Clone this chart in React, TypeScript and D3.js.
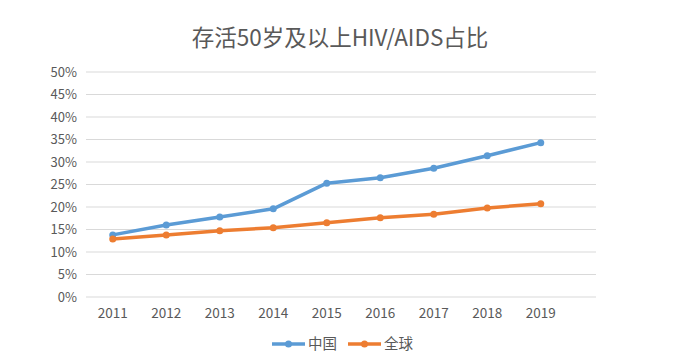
import React from "react";
import * as d3 from "d3";

const years = ["2011", "2012", "2013", "2014", "2015", "2016", "2017", "2018", "2019"];
const china = [13.8, 16.0, 17.8, 19.6, 25.3, 26.5, 28.6, 31.4, 34.3];
const world = [12.9, 13.8, 14.7, 15.4, 16.5, 17.6, 18.4, 19.8, 20.7];
const yTicks = [0, 5, 10, 15, 20, 25, 30, 35, 40, 45, 50];
const seriesNames = ["中国", "全球"];
const colors = ["#5B9BD5", "#ED7D31"];

const W = 700, H = 357;
const left = 86, right = 596, top = 72, bottom = 297;
const bandW = 53.5;

export default function App() {
  const x = d3.scalePoint<string>().domain(years).range([left + bandW / 2, left + bandW / 2 + bandW * 8]);
  const y = d3.scaleLinear().domain([0, 50]).range([bottom, top]);
  const line = d3.line<number>().x((_, i) => x(years[i])!).y((d) => y(d));
  const font = "'Noto Sans CJK SC', 'Liberation Sans', sans-serif";
  const series = [china, world];
  const legendX = [272, 348];
  return (
    <div style={{ position: "fixed", left: 0, top: 0, width: W, height: H, background: "#fff" }}>
      <svg width={W} height={H} style={{ display: "block" }} fontFamily={font}>
        <rect width={W} height={H} fill="#fff" />
        <text x={340} y={46} textAnchor="middle" fontSize={22.5} fill="#595959">存活50岁及以上HIV/AIDS占比</text>
        {yTicks.map((t) => (
          <g key={t}>
            <line x1={left} x2={right} y1={y(t)} y2={y(t)} stroke="#d9d9d9" strokeWidth={1} />
            <text x={77} y={y(t)} dy="0.35em" textAnchor="end" fontSize={13} fill="#595959">{t}%</text>
          </g>
        ))}
        {years.map((yr) => (
          <text key={yr} x={x(yr)} y={318} textAnchor="middle" fontSize={13.5} fill="#595959">{yr}</text>
        ))}
        {series.map((s, si) => (
          <g key={si}>
            <path d={line(s)!} fill="none" stroke={colors[si]} strokeWidth={3.5} strokeLinejoin="round" strokeLinecap="round" />
            {s.map((v, i) => (
              <circle key={i} cx={x(years[i])} cy={y(v)} r={3.5} fill={colors[si]} />
            ))}
          </g>
        ))}
        {seriesNames.map((n, i) => (
          <g key={n}>
            <line x1={legendX[i]} x2={legendX[i] + 33} y1={344} y2={344} stroke={colors[i]} strokeWidth={3.5} />
            <circle cx={legendX[i] + 16.5} cy={344} r={3.5} fill={colors[i]} />
            <text x={legendX[i] + 36} y={344} dy="0.35em" fontSize={14.5} fill="#595959">{n}</text>
          </g>
        ))}
      </svg>
    </div>
  );
}
